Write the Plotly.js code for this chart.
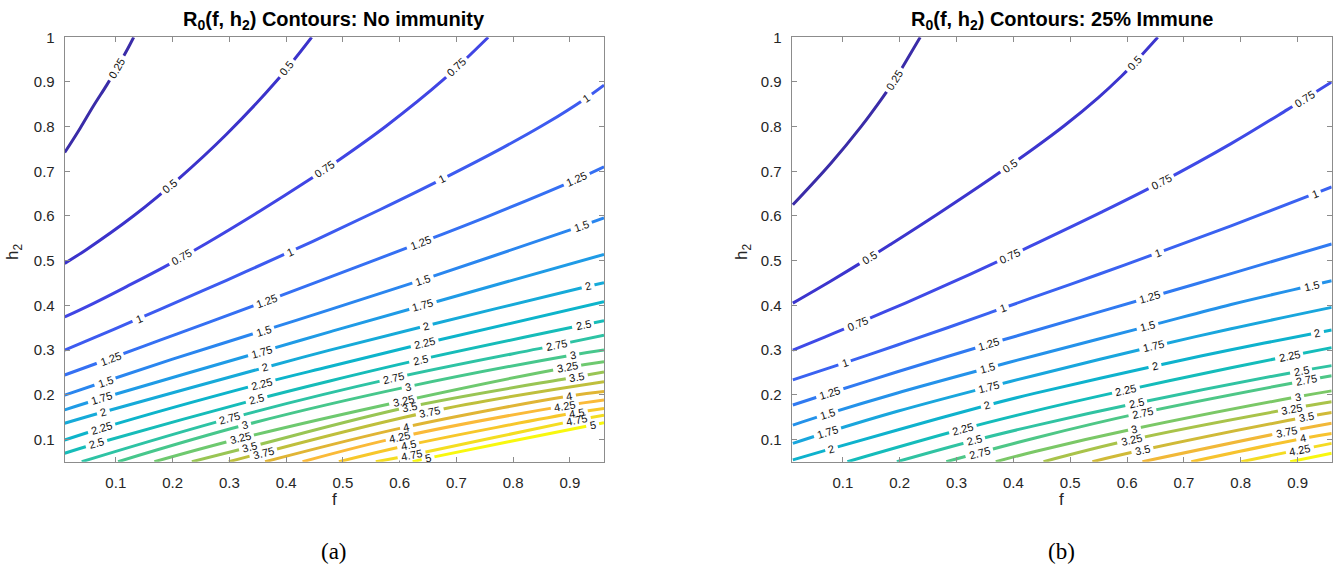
<!DOCTYPE html>
<html>
<head>
<meta charset="utf-8">
<script src="https://cdn.plot.ly/plotly-3.0.1.min.js"></script>
<style>
  html, body { margin: 0; padding: 0; background: #fff; }
  #chart { width: 1338px; height: 573px; }
</style>
</head>
<body>
<div id="chart"></div>
<script>
// ---------- R0(f, h2) contour lines, no immunity ----------
const levelsNone = [0.25, 0.5, 0.75, 1, 1.25, 1.5, 1.75, 2, 2.25, 2.5,
                    2.75, 3, 3.25, 3.5, 3.75, 4, 4.25, 4.5, 4.75, 5];
const fNone = [
  [0.01, 0.037, 0.06, 0.084, 0.102, 0.12, 0.1315],
  [0.01, 0.046, 0.131, 0.213, 0.295, 0.383, 0.445],
  [0.01, 0.06, 0.119, 0.184, 0.26, 0.354, 0.442, 0.495, 0.577, 0.677, 0.756],
  [0.01, 0.06, 0.14, 0.178, 0.295, 0.407, 0.477, 0.565, 0.674, 0.782, 0.859, 0.925, 0.96],
  [0.01, 0.09, 0.178, 0.266, 0.366, 0.477, 0.636, 0.759, 0.912, 0.96],
  [0.01, 0.081, 0.2, 0.36, 0.477, 0.641, 0.92, 0.96],
  [0.01, 0.075, 0.357, 0.477, 0.641, 0.96],
  [0.01, 0.078, 0.363, 0.477, 0.647, 0.932, 0.96],
  [0.01, 0.075, 0.357, 0.477, 0.644, 0.96],
  [0.01, 0.066, 0.348, 0.477, 0.636, 0.923, 0.96],
  [0.04, 0.301, 0.589, 0.876, 0.96],
  [0.104, 0.327, 0.615, 0.905, 0.96],
  [0.168, 0.319, 0.606, 0.895, 0.96],
  [0.234, 0.336, 0.618, 0.912, 0.96],
  [0.299, 0.653, 0.96],
  [0.363, 0.612, 0.899, 0.96],
  [0.429, 0.6, 0.891, 0.96],
  [0.493, 0.615, 0.912, 0.96],
  [0.558, 0.621, 0.912, 0.96],
  [0.623, 0.65, 0.94, 0.96]
];
const h2None = [
  [0.742, 0.796, 0.845, 0.893, 0.931, 0.972, 1.0],
  [0.494, 0.523, 0.6, 0.686, 0.783, 0.902, 1.0],
  [0.374, 0.404, 0.442, 0.485, 0.539, 0.611, 0.682, 0.727, 0.802, 0.905, 1.0],
  [0.3, 0.3265, 0.37, 0.391, 0.456, 0.52, 0.561, 0.614, 0.682, 0.753, 0.808, 0.861, 0.893],
  [0.244, 0.281, 0.322, 0.363, 0.41, 0.463, 0.54, 0.601, 0.682, 0.71],
  [0.199, 0.2295, 0.2795, 0.3435, 0.3903, 0.4575, 0.5775, 0.5955],
  [0.166, 0.192, 0.2963, 0.3407, 0.3997, 0.514],
  [0.136, 0.1612, 0.261, 0.2998, 0.3542, 0.4426, 0.4507],
  [0.0985, 0.125, 0.225, 0.263, 0.315, 0.408],
  [0.069, 0.0908, 0.1895, 0.2308, 0.2785, 0.356, 0.3656],
  [0.05, 0.147, 0.237, 0.311, 0.333],
  [0.05, 0.132, 0.218, 0.289, 0.3],
  [0.05, 0.102, 0.186, 0.261, 0.274],
  [0.05, 0.083, 0.173, 0.24, 0.251],
  [0.05, 0.162, 0.229],
  [0.05, 0.128, 0.197, 0.207],
  [0.05, 0.105, 0.175, 0.188],
  [0.05, 0.087, 0.16, 0.169],
  [0.05, 0.065, 0.143, 0.154],
  [0.05, 0.058, 0.132, 0.137]
];

// ---------- R0(f, h2) contour lines, 25% immune ----------
const levelsImmune = [0.25, 0.5, 0.75, 1, 1.25, 1.5, 1.75, 2, 2.25, 2.5,
                      2.75, 3, 3.25, 3.5, 3.75, 4, 4.25, 4.5];
const fImmune = [
  [0.012, 0.079, 0.132, 0.167, 0.191, 0.209, 0.236],
  [0.012, 0.079, 0.146, 0.185, 0.267, 0.361, 0.437, 0.49, 0.549, 0.59, 0.613, 0.654],
  [0.012, 0.068, 0.125, 0.21, 0.286, 0.374, 0.431, 0.555, 0.66, 0.783, 0.882, 0.96],
  [0.012, 0.103, 0.196, 0.284, 0.36, 0.431, 0.549, 0.654, 0.783, 0.93, 0.96],
  [0.012, 0.077, 0.196, 0.284, 0.357, 0.437, 0.64, 0.783, 0.96],
  [0.012, 0.073, 0.196, 0.354, 0.437, 0.636, 0.783, 0.924, 0.96],
  [0.012, 0.073, 0.196, 0.357, 0.437, 0.646, 0.783, 0.96],
  [0.012, 0.08, 0.196, 0.354, 0.437, 0.649, 0.783, 0.935, 0.96],
  [0.108, 0.311, 0.44, 0.598, 0.783, 0.885, 0.96],
  [0.195, 0.331, 0.44, 0.616, 0.906, 0.96],
  [0.282, 0.44, 0.627, 0.915, 0.96],
  [0.369, 0.44, 0.613, 0.9, 0.96],
  [0.453, 0.607, 0.89, 0.96],
  [0.539, 0.627, 0.915, 0.96],
  [0.627, 0.88, 0.96],
  [0.713, 0.909, 0.96],
  [0.801, 0.904, 0.96],
  [0.887, 0.96]
];
const h2Immune = [
  [0.625, 0.718, 0.8, 0.86, 0.904, 0.942, 1.0],
  [0.405, 0.4546, 0.5062, 0.5374, 0.6046, 0.6845, 0.7522, 0.8025, 0.8645, 0.9128, 0.9427, 1.0],
  [0.3, 0.3291, 0.3593, 0.4052, 0.4478, 0.4988, 0.533, 0.6086, 0.6758, 0.7619, 0.8381, 0.9],
  [0.233, 0.2712, 0.3112, 0.3499, 0.3841, 0.416, 0.4691, 0.5174, 0.578, 0.65, 0.665],
  [0.177, 0.2037, 0.2513, 0.2856, 0.3134, 0.343, 0.4181, 0.471, 0.5375],
  [0.132, 0.157, 0.2038, 0.2591, 0.2873, 0.353, 0.402, 0.4443, 0.455],
  [0.091, 0.116, 0.1628, 0.2175, 0.2431, 0.3079, 0.3476, 0.3954],
  [0.054, 0.0792, 0.121, 0.1763, 0.2029, 0.2644, 0.3006, 0.3386, 0.3446],
  [0.05, 0.1231, 0.1644, 0.2102, 0.2602, 0.2867, 0.3054],
  [0.05, 0.0976, 0.1314, 0.1807, 0.2532, 0.2651],
  [0.05, 0.1037, 0.1598, 0.2318, 0.2422],
  [0.05, 0.0734, 0.1236, 0.1953, 0.2085],
  [0.05, 0.099, 0.169, 0.184],
  [0.05, 0.076, 0.15, 0.16],
  [0.05, 0.117, 0.136],
  [0.05, 0.102, 0.113],
  [0.05, 0.077, 0.091],
  [0.05, 0.069]
];

// Where along each line (in f) the inline level labels sit
const labelSpotsNone = [
  [0.102], [0.195, 0.401], [0.216, 0.468, 0.70], [0.14, 0.407, 0.674, 0.929],
  [0.09, 0.366, 0.636, 0.912], [0.081, 0.36, 0.641, 0.92], [0.075, 0.357, 0.641],
  [0.078, 0.363, 0.647, 0.932], [0.075, 0.357, 0.644], [0.066, 0.348, 0.636, 0.923],
  [0.301, 0.589, 0.876], [0.327, 0.615, 0.905], [0.319, 0.606, 0.895],
  [0.336, 0.618, 0.912], [0.36, 0.653], [0.612, 0.899], [0.6, 0.891],
  [0.615, 0.912], [0.621, 0.912], [0.65, 0.94]
];
const labelSpotsImmune = [
  [0.191], [0.146, 0.393, 0.613], [0.125, 0.394, 0.66, 0.912], [0.103, 0.381, 0.654, 0.93],
  [0.077, 0.357, 0.64], [0.073, 0.354, 0.636, 0.924], [0.073, 0.357, 0.646],
  [0.08, 0.354, 0.649, 0.935], [0.311, 0.598, 0.885], [0.331, 0.616, 0.906],
  [0.34, 0.627, 0.915], [0.613, 0.9], [0.607, 0.89], [0.627, 0.915],
  [0.88], [0.909], [0.904], []
];

// Parula-like colour ramp used for the contour lines
const rampStops = [
  [0.00, '#3a2ca8'], [0.053, '#3b33cb'], [0.105, '#4045e4'], [0.158, '#3d5bf0'],
  [0.21, '#3570f3'], [0.263, '#2a86ef'], [0.316, '#1f9be6'], [0.368, '#16aad9'],
  [0.42, '#0db4cb'], [0.47, '#14bcbb'], [0.526, '#2ec3a4'], [0.58, '#48c78c'],
  [0.63, '#6dc970'], [0.68, '#96c656'], [0.737, '#bfbf3c'], [0.79, '#e0b535'],
  [0.84, '#fab93a'], [0.89, '#f7c52c'], [0.947, '#f4dd22'], [1.0, '#f8f80e']
];

const W = 1338, H = 573;
const F_RANGE = [0.01, 0.96], H_RANGE = [0.05, 1];
const panels = [
  { levels: levelsNone, f: fNone, h: h2None, spots: labelSpotsNone,
    px: [64.7, 604], xa: 'x', ya: 'y',
    title: '<b>R<sub>0</sub>(f, h<sub>2</sub>) Contours: No immunity</b>', caption: '(a)', hx: 14 },
  { levels: levelsImmune, f: fImmune, h: h2Immune, spots: labelSpotsImmune,
    px: [791.7, 1331.7], xa: 'x2', ya: 'y2',
    title: '<b>R<sub>0</sub>(f, h<sub>2</sub>) Contours: 25% Immune</b>', caption: '(b)', hx: 743 }
];
const PY = [37.3, 461.7];

function hex2rgb(h) { return [1, 3, 5].map(i => parseInt(h.substr(i, 2), 16)); }
function rampColor(t) {
  t = Math.max(0, Math.min(1, t));
  for (let i = 1; i < rampStops.length; i++) {
    if (t <= rampStops[i][0]) {
      const [t0, c0] = rampStops[i - 1], [t1, c1] = rampStops[i];
      const u = (t - t0) / (t1 - t0), a = hex2rgb(c0), b = hex2rgb(c1);
      const c = a.map((v, k) => Math.round(v + (b[k] - v) * u));
      return `rgb(${c[0]},${c[1]},${c[2]})`;
    }
  }
  return rampStops[rampStops.length - 1][1];
}
function along(fs, hs, x) {
  if (x <= fs[0]) return hs[0];
  for (let i = 1; i < fs.length; i++) {
    if (x <= fs[i]) return hs[i - 1] + (hs[i] - hs[i - 1]) * (x - fs[i - 1]) / (fs[i] - fs[i - 1]);
  }
  return hs[hs.length - 1];
}
function labelWidth(txt, size) {
  let w = 0;
  for (const ch of txt) w += (ch === '.' ? 0.278 : 0.556) * size;
  return w;
}

const FONT = 'Liberation Sans, Arial, Helvetica, sans-serif';
const traces = [], shapes = [], annotations = [];
const LABEL_SIZE = 11;

panels.forEach(p => {
  const pxPerF = (p.px[1] - p.px[0]) / (F_RANGE[1] - F_RANGE[0]);
  const pxPerH = (PY[1] - PY[0]) / (H_RANGE[1] - H_RANGE[0]);
  const lo = p.levels[0], hi = p.levels[p.levels.length - 1];
  p.levels.forEach((lev, i) => {
    const color = rampColor((lev - lo) / (hi - lo));
    traces.push({
      x: p.f[i], y: p.h[i], xaxis: p.xa, yaxis: p.ya, mode: 'lines',
      line: { color: color, width: 3, shape: 'spline', smoothing: 1 },
      hoverinfo: 'skip', showlegend: false
    });
    const txt = String(lev);
    p.spots[i].forEach(fx => {
      const hy = along(p.f[i], p.h[i], fx);
      const d = 0.015;
      const slope = (along(p.f[i], p.h[i], fx + d) - along(p.f[i], p.h[i], fx - d)) / (2 * d);
      const theta = Math.atan(slope * pxPerH / pxPerF);
      const half = (labelWidth(txt, LABEL_SIZE) + 7) / 2;
      const dx = half * Math.cos(theta) / pxPerF, dy = half * Math.sin(theta) / pxPerH;
      // white break in the line under the label
      shapes.push({
        type: 'line', xref: p.xa, yref: p.ya, layer: 'above',
        x0: fx - dx, y0: hy - dy, x1: fx + dx, y1: hy + dy,
        line: { color: '#ffffff', width: 6 }
      });
      annotations.push({
        xref: p.xa, yref: p.ya, x: fx, y: hy, text: txt, showarrow: false,
        textangle: -theta * 180 / Math.PI, xanchor: 'center', yanchor: 'middle',
        font: { family: FONT, size: LABEL_SIZE, color: '#111' }
      });
    });
  });
  const cx = (p.px[0] + p.px[1]) / 2 / W;
  annotations.push({
    xref: 'paper', yref: 'paper', x: cx, y: 1 - 20 / H, text: p.title, showarrow: false,
    xanchor: 'center', yanchor: 'middle',
    font: { family: FONT, size: 20, color: '#000' }
  });
  annotations.push({
    xref: 'paper', yref: 'paper', x: cx, y: 1 - 499 / H, text: 'f', showarrow: false,
    xanchor: 'center', yanchor: 'middle',
    font: { family: FONT, size: 17, color: '#262626' }
  });
  annotations.push({
    xref: 'paper', yref: 'paper', x: p.hx / W, y: 1 - 252 / H, text: 'h<sub>2</sub>', showarrow: false,
    textangle: -90, xanchor: 'center', yanchor: 'middle',
    font: { family: FONT, size: 17, color: '#262626' }
  });
  annotations.push({
    xref: 'paper', yref: 'paper', x: cx, y: 1 - 551 / H, text: p.caption, showarrow: false,
    xanchor: 'center', yanchor: 'middle',
    font: { family: 'Liberation Serif, Times New Roman, serif', size: 23, color: '#000' }
  });
});

function xAxis(p, anchor) {
  return {
    domain: [p.px[0] / W, p.px[1] / W], range: F_RANGE, anchor: anchor,
    tickvals: [0.1, 0.2, 0.3, 0.4, 0.5, 0.6, 0.7, 0.8, 0.9],
    ticktext: ['0.1', '0.2', '0.3', '0.4', '0.5', '0.6', '0.7', '0.8', '0.9'],
    ticks: 'inside', ticklen: 5, tickcolor: '#8c8c8c', tickwidth: 1,
    showline: true, linecolor: '#8c8c8c', linewidth: 1, mirror: 'allticks',
    showgrid: false, zeroline: false, ticklabelstandoff: 7,
    tickfont: { family: FONT, size: 15, color: '#262626' }
  };
}
function yAxis(anchor) {
  return {
    domain: [1 - PY[1] / H, 1 - PY[0] / H], range: H_RANGE, anchor: anchor,
    tickvals: [0.1, 0.2, 0.3, 0.4, 0.5, 0.6, 0.7, 0.8, 0.9, 1],
    ticktext: ['0.1', '0.2', '0.3', '0.4', '0.5', '0.6', '0.7', '0.8', '0.9', '1'],
    ticks: 'inside', ticklen: 5, tickcolor: '#8c8c8c', tickwidth: 1,
    showline: true, linecolor: '#8c8c8c', linewidth: 1, mirror: 'allticks',
    showgrid: false, zeroline: false, ticklabelstandoff: 6,
    tickfont: { family: FONT, size: 15, color: '#262626' }
  };
}

const layout = {
  width: W, height: H, margin: { l: 0, r: 0, t: 0, b: 0 },
  paper_bgcolor: '#ffffff', plot_bgcolor: '#ffffff', showlegend: false,
  xaxis: xAxis(panels[0], 'y'), yaxis: yAxis('x'),
  xaxis2: xAxis(panels[1], 'y2'), yaxis2: yAxis('x2'),
  shapes: shapes, annotations: annotations
};

Plotly.newPlot('chart', traces, layout, { staticPlot: true, displayModeBar: false });
</script>
</body>
</html>
